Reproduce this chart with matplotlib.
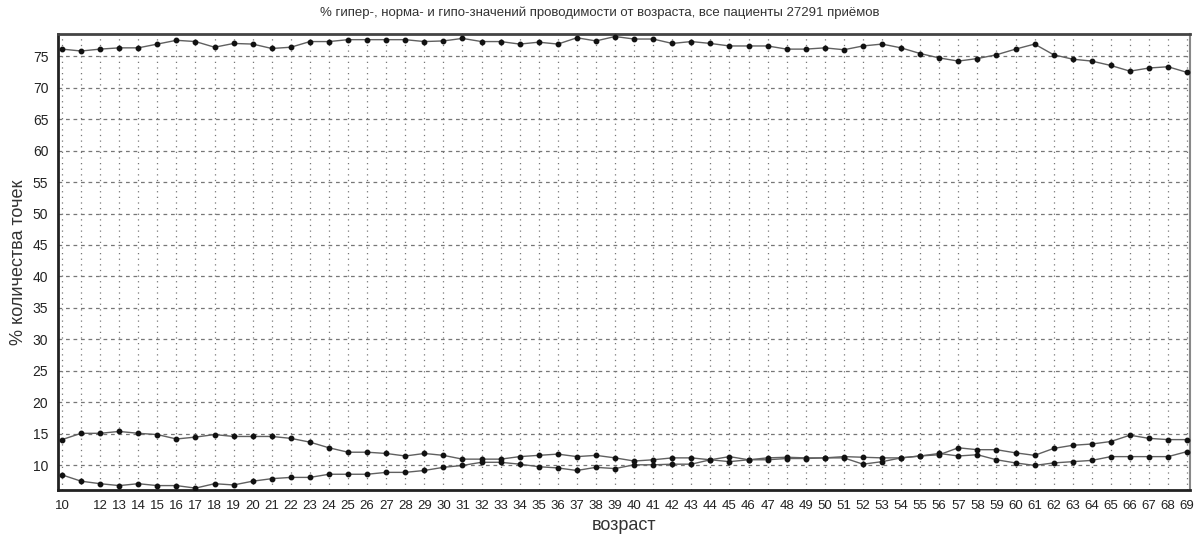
import matplotlib
matplotlib.use("Agg")
import matplotlib.pyplot as plt
import numpy as np

plt.rcParams['font.family'] = ['Liberation Sans', 'DejaVu Sans']

ages = list(range(10, 70))

norm = [76.1, 75.8, 76.1, 76.3, 76.3, 76.9, 77.5, 77.3, 76.4, 77.0,
        76.9, 76.2, 76.4, 77.3, 77.3, 77.6, 77.6, 77.6, 77.6, 77.3,
        77.4, 77.8, 77.3, 77.3, 76.9, 77.2, 76.9, 77.9, 77.4, 78.1,
        77.7, 77.7, 77.0, 77.3, 77.0, 76.6, 76.6, 76.6, 76.1, 76.1,
        76.3, 76.0, 76.6, 76.9, 76.3, 75.4, 74.7, 74.2, 74.6, 75.2,
        76.1, 76.9, 75.2, 74.5, 74.2, 73.5, 72.6, 73.1, 73.3, 72.4]

series_a = [14.1, 15.1, 15.1, 15.4, 15.1, 14.9, 14.2, 14.5, 14.9, 14.6,
            14.6, 14.6, 14.3, 13.7, 12.8, 12.1, 12.1, 11.9, 11.5, 11.9,
            11.6, 11.0, 11.0, 11.0, 11.4, 11.6, 11.8, 11.4, 11.6, 11.2,
            10.7, 10.9, 11.2, 11.2, 10.9, 11.4, 10.9, 11.2, 11.3, 11.2,
            11.2, 11.4, 11.3, 11.2, 11.2, 11.5, 11.7, 12.8, 12.5, 12.5,
            12.0, 11.6, 12.7, 13.2, 13.4, 13.8, 14.8, 14.3, 14.1, 14.1]

series_b = [8.5, 7.5, 7.1, 6.8, 7.1, 6.8, 6.8, 6.4, 7.1, 6.9,
            7.5, 7.9, 8.1, 8.1, 8.6, 8.6, 8.6, 8.9, 8.9, 9.2,
            9.7, 10.0, 10.5, 10.5, 10.2, 9.8, 9.6, 9.2, 9.7, 9.5,
            10.1, 10.1, 10.2, 10.2, 10.9, 10.6, 10.9, 10.9, 11.1, 11.1,
            11.2, 11.2, 10.2, 10.6, 11.2, 11.5, 11.9, 11.5, 11.7, 10.9,
            10.4, 10.0, 10.4, 10.6, 10.8, 11.4, 11.4, 11.4, 11.4, 12.2]

xtick_labels = [str(a) if a != 11 else '' for a in ages]
yticks = list(range(10, 80, 5))

title = "% гипер-, норма- и гипо-значений проводимости от возраста, все пациенты 27291 приёмов"

fig = plt.figure(figsize=(12, 5.4), dpi=100)
ax = fig.add_axes([58/1200, 50/540, (1190-58)/1200, (490-34)/540])

for ser in (norm, series_a, series_b):
    ax.plot(ages, ser, color='#606060', linewidth=1.0, marker='o',
            markersize=3.2, markerfacecolor='#111111', markeredgecolor='#111111', zorder=3)

ax.set_xlim(9.79, 69.15)
ax.set_ylim(6.1, 78.5)
ax.set_xticks(ages)
ax.set_xticklabels(xtick_labels, fontsize=9.5, color='#222222')
ax.set_yticks(yticks)
ax.set_yticklabels([str(v) for v in yticks], fontsize=10, color='#222222')
ax.tick_params(axis='both', length=0, pad=7)

for a in ages:
    ax.axvline(a, color='#777777', linewidth=0.9, linestyle=(0, (1, 3.5)), zorder=1)
for v in yticks:
    ax.axhline(v, color='#777777', linewidth=0.9, linestyle=(0, (3, 3)), zorder=1)

for side in ('left', 'bottom', 'top'):
    ax.spines[side].set_linewidth(2.0)
    ax.spines[side].set_color('#222222')
ax.spines['top'].set_color('#444444')
ax.spines['right'].set_linewidth(1.5)
ax.spines['right'].set_color('#888888')

fig.text(0.5, 1 - 13/540, title, ha='center', va='center', fontsize=9.5, color='#333333')
ax.set_xlabel('возраст', fontsize=13, color='#333333', labelpad=4)
ax.set_ylabel('% количества точек', fontsize=13, color='#333333', labelpad=4)

fig.savefig('out.png', dpi=100)
